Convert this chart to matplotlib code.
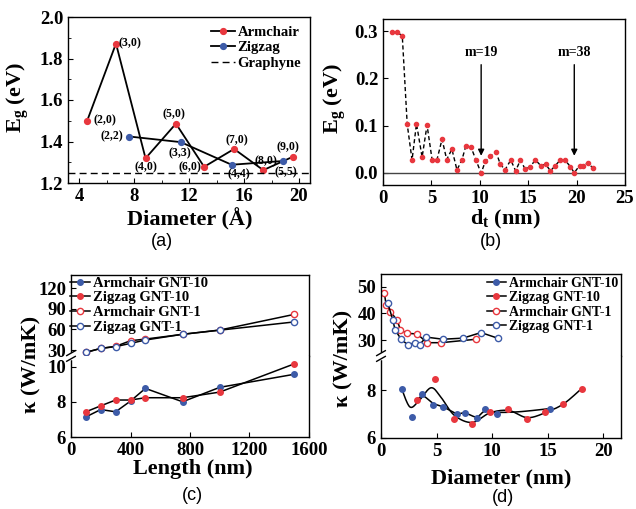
import numpy as np
import matplotlib
matplotlib.use("Agg")
import matplotlib.pyplot as plt
from matplotlib.ticker import AutoMinorLocator

plt.rcParams["font.family"] = "serif"
plt.rcParams["font.serif"] = ["Liberation Serif", "DejaVu Serif"]
plt.rcParams["font.weight"] = "bold"
plt.rcParams["axes.labelweight"] = "bold"
plt.rcParams["mathtext.fontset"] = "custom"
plt.rcParams["mathtext.rm"] = "Liberation Serif:bold"
plt.rcParams["mathtext.it"] = "Liberation Serif:italic:bold"
plt.rcParams["mathtext.bf"] = "Liberation Serif:bold"
plt.rcParams["xtick.direction"] = "in"
plt.rcParams["ytick.direction"] = "in"
plt.rcParams["xtick.labelsize"] = 13.5
plt.rcParams["ytick.labelsize"] = 13.5
plt.rcParams["axes.linewidth"] = 1.0

RED = "#e8373e"
BLUE = "#3d5ba8"

# (a) band gap vs diameter
arm_d = [4.6, 6.69, 8.84, 11.05, 13.1, 15.28, 17.4, 19.57]
arm_eg = [1.501, 1.872, 1.319, 1.486, 1.278, 1.364, 1.262, 1.327]
arm_lab = ["(2,0)", "(3,0)", "(4,0)", "(5,0)", "(6,0)", "(7,0)", "(8,0)", "(9,0)"]
zig_d = [7.66, 11.4, 15.1, 18.84]
zig_eg = [1.424, 1.397, 1.288, 1.306]
zig_lab = ["(2,2)", "(3,3)", "(4,4)", "(5,5)"]
graphyne_eg = 1.25

# (b) band gap vs tube diameter
dt = [0.95, 1.4, 1.99, 2.5, 3.0, 3.46, 4.04, 4.55, 5.07, 5.58, 6.1, 6.58, 7.12,
      7.64, 8.15, 8.56, 9.1, 9.6, 10.14, 10.58, 11.1, 11.7, 12.1, 12.6, 13.2,
      13.7, 14.2, 14.7, 15.2, 15.75, 16.3, 16.8, 17.3, 17.8, 18.3, 18.8, 19.35,
      19.76, 20.3, 20.7, 21.2, 21.7]
eg_b = [0.298, 0.298, 0.291, 0.103, 0.027, 0.104, 0.033, 0.101, 0.028, 0.028,
        0.071, 0.028, 0.05, 0.006, 0.027, 0.057, 0.054, 0.027, -0.001, 0.025,
        0.035, 0.043, 0.019, 0.006, 0.027, 0.004, 0.027, 0.007, 0.013, 0.027,
        0.015, 0.018, 0.004, 0.015, 0.027, 0.027, 0.013, 0.0, 0.015, 0.015,
        0.021, 0.009]
m_labels = ["m=19", "m=38"]
m_dt = [10.14, 19.76]

# (c) thermal conductivity vs length
length = [100, 200, 300, 400, 500, 750, 1000, 1500]
k_arm10 = [7.14, 7.56, 7.43, 8.04, 8.76, 8.0, 8.82, 9.56]
k_zig10 = [7.43, 7.77, 8.1, 8.1, 8.23, 8.23, 8.55, 10.15]
k_arm1 = [26.6, 32.4, 35.4, 43.6, 46.0, 52.9, 59.2, 82.0]
k_zig1 = [26.6, 32.4, 35.0, 39.7, 44.6, 53.0, 59.0, 71.0]

# (d) thermal conductivity vs diameter
d_arm10 = [1.85, 2.8, 3.65, 4.7, 5.6, 6.8, 7.55, 8.6, 9.35, 10.46, 15.2]
kd_arm10 = [8.07, 6.88, 7.86, 7.37, 7.30, 7.02, 7.05, 6.85, 7.23, 7.02, 7.23]
d_zig10 = [3.2, 4.85, 6.56, 8.15, 9.8, 11.45, 13.1, 14.75, 16.4, 18.06]
kd_zig10 = [7.58, 8.45, 6.81, 6.6, 7.09, 7.23, 6.81, 7.09, 7.44, 8.07]
d_arm1 = [0.31, 0.46, 0.85, 1.45, 1.75, 2.35, 3.25, 4.15, 5.4, 8.57]
kd_arm1 = [47.5, 43.1, 40.6, 37.5, 33.8, 32.5, 32.3, 29.0, 29.0, 30.3]
d_zig1 = [0.61, 1.06, 1.27, 1.81, 2.41, 3.02, 3.47, 4.06, 5.57, 7.37, 9.0, 10.5]
kd_zig1 = [44.0, 37.5, 33.8, 30.3, 28.2, 29.0, 28.2, 31.1, 30.3, 30.7, 32.8, 30.7]
# fitted curves through the GNT-10 points (as drawn)
fit1_d = [1.85, 2.6, 3.4, 4.5, 5.4, 6.6, 8.2, 9.8, 11.5, 13.2, 15.0, 16.5, 18.06]
fit1_k = [8.07, 7.3, 7.55, 8.1, 7.7, 6.95, 6.65, 7.05, 7.15, 6.85, 7.1, 7.45, 8.07]
fit2_d = [3.2, 3.8, 4.7, 5.6, 6.8, 7.55, 8.6, 9.35, 10.5, 12.5, 15.2]
fit2_k = [7.58, 7.75, 7.45, 7.3, 7.02, 7.05, 6.88, 7.12, 7.07, 7.1, 7.23]


def catmull_rom(xs, ys, n=16):
    p = np.column_stack([xs, ys]).astype(float)
    p = np.vstack([p[0], p, p[-1]])
    out = []
    t = np.linspace(0, 1, n, endpoint=False)[:, None]
    for i in range(1, len(p) - 2):
        p0, p1, p2, p3 = p[i - 1], p[i], p[i + 1], p[i + 2]
        seg = 0.5 * (2 * p1 + (-p0 + p2) * t
                     + (2 * p0 - 5 * p1 + 4 * p2 - p3) * t ** 2
                     + (-p0 + 3 * p1 - 3 * p2 + p3) * t ** 3)
        out.append(seg)
    out.append(p[-2][None, :])
    c = np.vstack(out)
    return c[:, 0], c[:, 1]


def break_marks(ax_bot):
    kw = dict(transform=ax_bot.transAxes, clip_on=False, zorder=6)
    ax_bot.plot([0, 0], [0.97, 1.03], color="white", lw=2.5, **kw)
    for off in (-0.035, 0.035):
        ax_bot.plot([-0.018, 0.018], [1 + off - 0.03, 1 + off + 0.03],
                    color="k", lw=1, **kw)


def split_axes(rect_top, rect_bot):
    at = fig.add_axes(rect_top)
    ab = fig.add_axes(rect_bot)
    at.spines["bottom"].set_visible(False)
    ab.spines["top"].set_visible(False)
    at.tick_params(axis="x", bottom=False, labelbottom=False)
    break_marks(ab)
    return at, ab


W, H = 636, 509
fig = plt.figure(figsize=(W / 100, H / 100), dpi=100)


def rect(l, t, r, b):
    return [l / W, 1 - b / H, (r - l) / W, (b - t) / H]


def ftext(x, y, s, **kw):
    fig.text(x / W, 1 - y / H, s, ha="center", va="center", **kw)


# ---- (a)
ax = fig.add_axes(rect(68, 17, 310, 183))
ax.plot(arm_d, arm_eg, color="k", lw=1.3, marker="o", ms=4.2,
        mfc=RED, mec=RED, label="Armchair")
ax.plot(zig_d, zig_eg, color="k", lw=1.3, marker="o", ms=4.2,
        mfc=BLUE, mec=BLUE, label="Zigzag")
ax.axhline(graphyne_eg, color="k", lw=1, ls=(0, (5, 3)), label="Graphyne")
arm_off = [(18, 0), (14, 0), (0, -9), (-2, 9), (-14, 0), (3, 9), (3, 9), (-5, 9)]
zig_off = [(-17, 0), (-1, -11), (7, -10), (3, -11)]
for xs, ys, labs, offs in ((arm_d, arm_eg, arm_lab, arm_off),
                           (zig_d, zig_eg, zig_lab, zig_off)):
    for x, y, s, o in zip(xs, ys, labs, offs):
        ax.annotate(s, (x, y), xytext=o, textcoords="offset pixels",
                    ha="center", va="center", fontsize=8.5)
ax.set_xlim(3.2, 20.8)
ax.set_ylim(1.2, 2.0)
ax.set_xticks([4, 8, 12, 16, 20])
ax.set_yticks([1.2, 1.4, 1.6, 1.8, 2.0])
ax.xaxis.set_minor_locator(AutoMinorLocator(2))
ax.yaxis.set_minor_locator(AutoMinorLocator(2))
ax.legend(loc="upper right", frameon=False, fontsize=10.5, handlelength=1.6,
          handletextpad=0.2, labelspacing=0.15, borderaxespad=0.2)

# ---- (b)
ax = fig.add_axes(rect(383, 19, 625, 185))
ax.axhline(0, color="#444444", lw=1)
ax.plot(dt, eg_b, color="k", lw=1, ls=(0, (3, 2)), marker="o", ms=3,
        mfc=RED, mec=RED)
for s, x in zip(m_labels, m_dt):
    ax.annotate("", xy=(x, 0.03), xytext=(x, 0.235),
                arrowprops=dict(arrowstyle="-|>", color="k", lw=1,
                                mutation_scale=9))
    ax.text(x, 0.254, s, ha="center", va="center", fontsize=10)
ax.set_xlim(0, 25)
ax.set_ylim(-0.026, 0.326)
ax.set_xticks([0, 5, 10, 15, 20, 25])
ax.set_yticks([0.0, 0.1, 0.2, 0.3])
ax.yaxis.set_major_formatter(matplotlib.ticker.FormatStrFormatter("%.1f"))

# ---- (c)
at, ab = split_axes(rect(71, 275, 309, 356), rect(71, 356, 309, 437))
h1, = ab.plot(length, k_arm10, color="k", lw=1.1, marker="o", ms=4,
              mfc=BLUE, mec=BLUE, label="Armchair GNT-10")
h2, = ab.plot(length, k_zig10, color="k", lw=1.1, marker="o", ms=4,
              mfc=RED, mec=RED, label="Zigzag GNT-10")
h3, = at.plot(length, k_arm1, color="k", lw=1.1, marker="o", ms=4.5,
              mfc="white", mec=RED, label="Armchair GNT-1")
h4, = at.plot(length, k_zig1, color="k", lw=1.1, marker="o", ms=4.5,
              mfc="white", mec=BLUE, label="Zigzag GNT-1")
for a in (at, ab):
    a.set_xlim(0, 1600)
at.set_ylim(21.3, 139.5)
at.set_yticks([30, 60, 90, 120])
ab.set_ylim(6, 10.6)
ab.set_yticks([6, 8, 10])
ab.set_xticks([0, 400, 800, 1200, 1600])
at.legend(handles=[h1, h2, h3, h4], loc="upper left", frameon=False,
          fontsize=10.5, handlelength=1.4, handletextpad=0.2,
          labelspacing=0.1, borderaxespad=0.0, borderpad=0.1,
          bbox_to_anchor=(-0.01, 1.0))

# ---- (d)
at, ab = split_axes(rect(381, 274, 621, 356), rect(381, 356, 621, 438))
fx, fy = catmull_rom(fit1_d, fit1_k)
ab.plot(fx, fy, color="k", lw=1.1)
fx, fy = catmull_rom(fit2_d, fit2_k)
ab.plot(fx, fy, color="k", lw=1.1)
h1, = ab.plot(d_arm10, kd_arm10, ls="none", marker="o", ms=4,
              mfc=BLUE, mec=BLUE, label="Armchair GNT-10")
h2, = ab.plot(d_zig10, kd_zig10, ls="none", marker="o", ms=4,
              mfc=RED, mec=RED, label="Zigzag GNT-10")
h3, = at.plot(d_arm1, kd_arm1, color="k", lw=1.1, marker="o", ms=4.5,
              mfc="white", mec=RED, label="Armchair GNT-1")
h4, = at.plot(d_zig1, kd_zig1, color="k", lw=1.1, marker="o", ms=4.5,
              mfc="white", mec=BLUE, label="Zigzag GNT-1")
for a in (at, ab):
    a.set_xlim(0, 21.6)
at.set_ylim(24, 54.8)
at.set_yticks([30, 40, 50])
ab.set_ylim(6, 9.43)
ab.set_yticks([6, 8])
ab.set_xticks([0, 5, 10, 15, 20])
lh = [plt.Line2D([], [], color="k", lw=1.1, marker="o", ms=4,
                 mfc=BLUE, mec=BLUE),
      plt.Line2D([], [], color="k", lw=1.1, marker="o", ms=4,
                 mfc=RED, mec=RED), h3, h4]
at.legend(lh, [h.get_label() for h in (h1, h2, h3, h4)], loc="upper right",
          frameon=False, fontsize=10, handlelength=1.4, handletextpad=0.2,
          labelspacing=0.1, borderaxespad=0.0, borderpad=0.2)

# axis labels and panel letters
ftext(18, 98, r"E$_\mathrm{g}$ (eV)", fontsize=16, rotation=90)
ftext(335, 99, r"E$_\mathrm{g}$ (eV)", fontsize=16, rotation=90)
ftext(31, 364, "κ (W/mK)", fontsize=16, rotation=90)
ftext(343, 358, "κ (W/mK)", fontsize=16, rotation=90)
ftext(190, 219, "Diameter (Å)", fontsize=16)
ftext(505, 219, r"d$_\mathrm{t}$ (nm)", fontsize=16)
ftext(193, 469, "Length (nm)", fontsize=16)
ftext(501, 478, "Diameter (nm)", fontsize=16)
for x, y, s in ((162, 242, "(a)"), (491, 242, "(b)"),
                (192, 496, "(c)"), (503, 498, "(d)")):
    ftext(x, y, s, fontsize=13, family="Liberation Sans", weight="normal")

fig.savefig("out.png", dpi=100)
